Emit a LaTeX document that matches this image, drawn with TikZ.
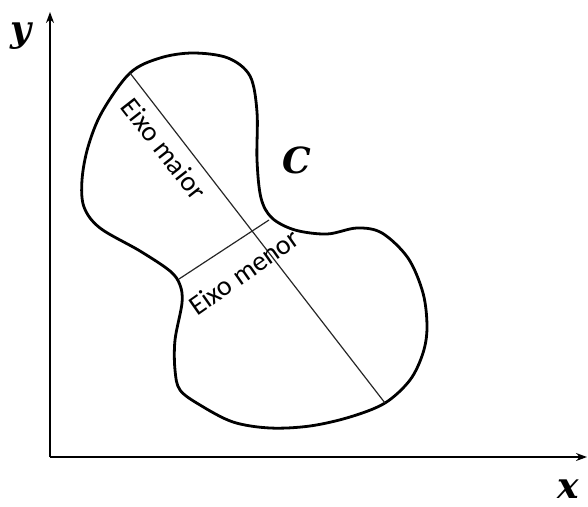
\documentclass[tikz,border=0pt]{standalone}
\usepackage{fontspec}
\setsansfont{Carlito}
\newfontfamily\labfont{DejaVu Serif}
\usepackage{tikz}
\usetikzlibrary{arrows.meta, positioning, calc}
\tikzset{every node/.style={font=\sffamily\fontsize{28}{30}\selectfont}}
\colorlet{axiscol}{black}
\colorlet{curvecol}{black}
\colorlet{chordcol}{black!85}
\tikzset{
  axisline/.style={line width=1.6pt, axiscol, -{Stealth[length=11pt, width=8pt]}},
  chord/.style={line width=1.2pt, chordcol},
  axislabel/.style={inner sep=0pt, font=\labfont\bfseries\itshape\fontsize{36}{38}\selectfont},
}

\begin{document}
\begin{tikzpicture}[x=1pt, y=-1pt, >=Stealth]
\useasboundingbox (0,0) rectangle (588,506);

% Axes
\coordinate (O) at (50,457);
\coordinate (xend) at (587,457);
\coordinate (yend) at (50,12);
\draw[axisline] (O) -- (xend);
\draw[axisline] (O) -- (yend);
\node[axislabel] (ylab) at (21,36) {y};
\node[axislabel] (xlab) at (568,489) {x};

% Region C
\draw[line width=2.8pt, curvecol] plot[smooth cycle, tension=0.55] coordinates {
  (130,73) (160,58) (193,53) (228,58) (250,76) (257,112) (257,160) (261,198)
  (272,218) (295,230) (327,234) (357,228) (382,233) (408,258) (423,293)
  (427,327) (423,353) (410,380) (385,403) (350,417) (310,426) (270,428)
  (233,422) (200,405) (180,390) (175,370) (175,340) (182,303) (180,285)
  (170,271) (140,251) (100,228) (84,207) (82,180) (88,147) (102,112)};
\node[axislabel] (clab) at (297,160) {C};

% Major and minor axes
\coordinate (maj1) at (130,73);
\coordinate (maj2) at (385,403);
\coordinate (min1) at (179,279);
\coordinate (min2) at (269,220);
\draw[chord] (maj1) -- (maj2);
\draw[chord] (min1) -- (min2);
\node[rotate=-52] (majlab) at (164,149) {Eixo maior};
\node[rotate=35] (minlab) at (244,272) {Eixo menor};

\end{tikzpicture}
\end{document}
